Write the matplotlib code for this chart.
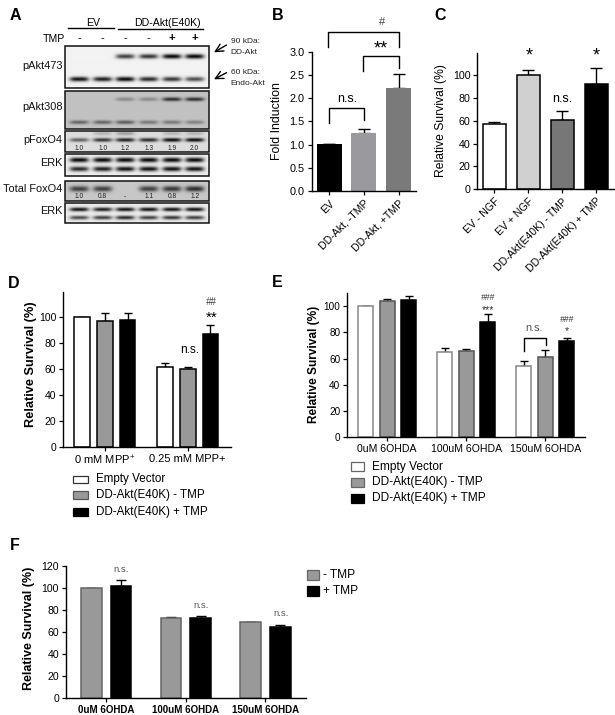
import numpy as np
import matplotlib
matplotlib.use("Agg")
import matplotlib.pyplot as plt
from matplotlib.patches import Rectangle

plt.rcParams["font.family"] = ["Liberation Sans", "DejaVu Sans"]
plt.rcParams["mathtext.default"] = "regular"

W, H = 615, 715

# panel B
b_labels = ["EV", "DD-Akt, -TMP", "DD-Akt, +TMP"]
b_values = [1.01, 1.25, 2.22]
b_errors = [0, 0.09, 0.31]
# panel C
c_labels = ["EV - NGF", "EV + NGF", "DD-Akt(E40K) - TMP", "DD-Akt(E40K) + TMP"]
c_values = [57, 100, 61, 92.5]
c_errors = [1.5, 4, 7.5, 13.5]
# panel D
d_groups = ["0 mM MPP$^{+}$", "0.25 mM MPP+"]
d_values = [[100, 62], [97, 60], [98, 87.5]]
d_errors = [[0, 2.5], [6.5, 2], [5, 6.5]]
# panel E
e_groups = ["0uM 6OHDA", "100uM 6OHDA", "150uM 6OHDA"]
e_values = [[100, 65, 54], [104, 66, 61.5], [104.5, 88, 73.5]]
e_errors = [[0, 3.5, 4.5], [2, 1.5, 5], [3.5, 6, 2]]
# panel F
f_values = [[100, 72.5, 68.5], [102, 72.5, 64.5]]
f_errors = [[0, 1, 0.5], [5, 1.5, 1.5]]

legend_three = ["Empty Vector", "DD-Akt(E40K) - TMP", "DD-Akt(E40K) + TMP"]
legend_two = ["- TMP", "+ TMP"]

# panel A, strength of each band per lane
lanes = [79.3, 102.7, 125.3, 148.7, 172, 194.7]
akt473_top = [0, 0, 0.75, 0.8, 1, 1]
akt473_low = [0.95, 0.9, 1, 0.85, 0.8, 0.7]
akt308_top = [0, 0, 0.3, 0.3, 0.8, 0.8]
akt308_low = [0.5, 0.5, 0.55, 0.4, 0.4, 0.35]
foxo_top = [0, 0.2, 0.3, 0, 0.2, 0.2]
foxo_mid = [0.6, 0.8, 0.9, 0.85, 1, 1]
erk1_top = [1, 1, 1, 1, 1, 1]
erk1_low = [0.85, 0.9, 0.95, 0.95, 0.95, 0.95]
total_foxo = [0.7, 0.7, 0, 0.7, 0.75, 0.8]
erk2_top = [0.95, 0.9, 0.95, 0.95, 0.95, 0.95]
erk2_low = [0.7, 0.75, 0.85, 0.75, 0.8, 0.75]
pfoxo_nums = ["1.0", "1.0", "1.2", "1.3", "1.9", "2.0"]
total_nums = ["1.0", "0.8", "-", "1.1", "0.8", "1.2"]

WHITE, GREY, BLACK = "white", "#999999", "black"

fig = plt.figure(figsize=(W / 100, H / 100), dpi=100)

ov = fig.add_axes([0, 0, 1, 1], zorder=10)
ov.set_xlim(0, W)
ov.set_ylim(H, 0)
ov.axis("off")
ov.patch.set_alpha(0)


def make_axes(left, right, y0, ytop, ymax, xlim):
    ax = fig.add_axes([left / W, 1 - y0 / H, (right - left) / W, (y0 - ytop) / H])
    ax.set_ylim(0, ymax)
    ax.set_xlim(*xlim)
    ax.spines["top"].set_visible(False)
    ax.spines["right"].set_visible(False)
    ax.spines["left"].set_linewidth(1.0)
    ax.spines["bottom"].set_linewidth(1.0)
    ax.tick_params(length=3, width=0.9, pad=2)
    return ax


def bars(ax, x, values, errors, color, width, edge="black", cap=2.7):
    ax.bar(x, values, width, color=color, edgecolor=edge, linewidth=1.1, zorder=2)
    ax.errorbar(x, values, yerr=[np.zeros(len(errors)), errors], fmt="none",
                ecolor="black", elinewidth=1.0, capsize=cap, capthick=1.0, zorder=1)


def ylabel(ax, text, x, y, size, **kw):
    ax.set_ylabel(text, fontsize=size, va="center", **kw)
    ax.yaxis.set_label_coords(x, y, transform=ov.transData)


def bracket(x1, y1, ytop, x2, y2, color="black"):
    ov.plot([x1, x1, x2, x2], [y1, ytop, ytop, y2], color=color, lw=1.0)


def note(x, y, s, size=7.5, color="black", **kw):
    ov.text(x, y, s, fontsize=size, color=color, ha="center", va="center", **kw)


def legend_rows(x0, x1, xt, ys, h, labels, colors, size, edges):
    for y, label, c, e in zip(ys, labels, colors, edges):
        ov.add_patch(Rectangle((x0, y - h / 2), x1 - x0, h, fc=c, ec=e, lw=0.9))
        ov.text(xt, y, label, fontsize=size, va="center", ha="left")


# ---- A
def blot(top, bottom, bg, rows, left=65.3, right=209.3, band_h=2.3, band_w=9.5):
    xs = np.arange(left, right, 0.5)
    ys = np.arange(top, bottom, 0.5)
    xx, yy = np.meshgrid(xs, ys)
    img = np.full(xx.shape, float(bg))
    for yc, strengths in rows:
        for lane, s in zip(lanes, strengths):
            band = np.exp(-((xx - lane) / band_w) ** 4) * np.exp(-((yy - yc) / band_h) ** 2)
            img = img * (1 - 0.97 * s * band)
    ov.imshow(img, cmap="gray", vmin=0, vmax=1, extent=(left, right, bottom, top),
              aspect="auto", interpolation="bilinear", zorder=1)
    ov.add_patch(Rectangle((left, top), right - left, bottom - top, fc="none", ec="#111111", lw=1.1, zorder=2))


blot(46, 88.3, 0.95, [(57, akt473_top), (79.5, akt473_low)])
blot(90.7, 128.7, 0.76, [(98.7, akt308_top), (121.7, akt308_low)], band_h=1.9)
blot(131.3, 152, 0.87, [(133.5, foxo_top), (140, foxo_mid)], band_h=1.9)
blot(154.3, 176, 0.93, [(160, erk1_top), (169, erk1_low)], band_h=2.4)
blot(180.7, 200.7, 0.78, [(188.3, total_foxo)], band_h=2.8)
blot(203.3, 222.7, 0.92, [(209.3, erk2_top), (217.3, erk2_low)], band_h=1.9)
ov.set_xlim(0, W)
ov.set_ylim(H, 0)

ov.plot([67.7, 114], [28.3, 28.3], color="black", lw=1.0)
ov.plot([118, 203.3], [28.5, 28.5], color="black", lw=1.0)
note(92.7, 23.3, "EV", 7.6)
note(167.7, 23.3, "DD-Akt(E40K)", 7.6)
ov.text(65, 39.3, "TMP", fontsize=7.6, ha="right", va="center")
for lane, sign in zip(lanes, ["-", "-", "-", "-", "+", "+"]):
    note(lane, 38.5, sign, 8, fontweight="bold" if sign == "+" else "normal")
for y, s in [(66, "pAkt473"), (107.5, "pAkt308"), (140, "pFoxO4"), (163, "ERK"),
             (188.5, "Total FoxO4"), (210.5, "ERK")]:
    ov.text(62.7, y, s, fontsize=7.9, ha="right", va="center", color="#111111")
for lane, a, b in zip(lanes, pfoxo_nums, total_nums):
    note(lane, 148.6, a, 4.8, "#222222", zorder=5)
    note(lane, 196.8, b, 4.8, "#222222", zorder=5)
for ty, hy in [(52.3, 45), (79.3, 72.7)]:
    ov.annotate("", xy=(214, ty), xytext=(226.5, hy),
                arrowprops=dict(arrowstyle="->", lw=1.0, color="black", mutation_scale=14,
                                shrinkA=0, shrinkB=0))
for y, s in [(41.7, "90 kDa:"), (52.3, "DD-Akt"), (72.7, "60 kDa:"), (83.3, "Endo-Akt")]:
    ov.text(230.7, y, s, fontsize=6, ha="left", va="center", color="#222222")

# ---- B
ax = make_axes(311.7, 416, 191, 51.7, 3.0, (-0.5, 2.5))
bars(ax, np.arange(3), b_values, b_errors, ["black", "#9a9a9e", "#7a7a7a"], 0.72, edge="none", cap=4)
ax.set_yticks(np.arange(0, 3.01, 0.5))
ax.tick_params(axis="y", labelsize=7.8)
ax.set_xticks(np.arange(3))
ax.set_xticklabels(b_labels, rotation=45, ha="right", rotation_mode="anchor", fontsize=7.6)
ylabel(ax, "Fold Induction", 276.7, 121, 8.9)
bracket(328.3, 47.3, 32.3, 399, 47.3)
bracket(363.3, 70.7, 56, 399, 68.3)
bracket(329.3, 123.3, 108.3, 364.3, 120)
note(347.7, 99, "n.s.", 9)
note(380.7, 49, "**", 13)
note(381.7, 22, "#", 8, "#444444")

# ---- C
ax = make_axes(477.3, 614, 189.3, 53.3, 119, (-0.5, 3.52))
bars(ax, np.arange(4), c_values, c_errors, ["white", "#d0d0d0", "#777777", "black"], 0.68, cap=4)
ax.set_yticks(np.arange(0, 101, 20))
ax.tick_params(axis="y", labelsize=7.7)
ax.set_xticks(np.arange(4))
ax.set_xticklabels(c_labels, rotation=45, ha="right", rotation_mode="anchor", fontsize=7.6)
ylabel(ax, "Relative Survival (%)", 440.7, 121, 8.7)
note(529, 56, "*", 13)
note(596.3, 56, "*", 13)
note(562.7, 99, "n.s.", 9)

# ---- D
gap = 3.66
ax = make_axes(63.3, 230.7, 447.3, 291.7, 119.7, (-0.84, 6.56))
for i, c in enumerate([WHITE, GREY, BLACK]):
    bars(ax, np.arange(2) * gap + i, d_values[i], d_errors[i], c, 0.69)
ax.set_yticks(np.arange(0, 101, 20))
ax.tick_params(axis="y", labelsize=7.5)
ax.set_xticks(np.arange(2) * gap + 1)
ax.set_xticklabels(d_groups, fontsize=8)
ylabel(ax, "Relative Survival (%)", 31, 364, 9.2, fontweight="bold")
note(190, 350, "n.s.", 8.5)
note(211.3, 301.7, "##", 7, "#444444", fontstyle="italic")
note(211.3, 317.5, "**", 11)
legend_rows(72.7, 88.3, 96, [479.3, 495, 511.7], 7.6, legend_three,
            [WHITE, GREY, BLACK], 8.4, ["#333333", "#555555", "black"])

# ---- E
gap = 3.67
ax = make_axes(347.3, 585, 437, 293.3, 110, (-0.856, 10.19))
for i, c in enumerate([WHITE, GREY, BLACK]):
    bars(ax, np.arange(3) * gap + i, e_values[i], e_errors[i], c, 0.68,
         edge="#888888" if i == 0 else "#555555" if i == 1 else "black")
ax.set_yticks(np.arange(0, 101, 20))
ax.tick_params(axis="y", labelsize=7.2)
ax.set_xticks(np.arange(3) * gap + 1)
ax.set_xticklabels(e_groups, fontsize=7.6)
ylabel(ax, "Relative Survival (%)", 314.3, 364, 8.6, fontweight="bold")
note(487.7, 297, "###", 6.2, "#333333", fontstyle="italic")
note(487.7, 310.5, "***", 7.5, "#333333")
note(534, 328.3, "n.s.", 7.8, "#555555")
note(566.7, 319.3, "###", 6.2, "#333333", fontstyle="italic")
note(566.7, 331.5, "*", 7.5, "#333333")
bracket(524, 351, 338.3, 545.7, 345)
legend_rows(350.7, 364, 371.7, [466.7, 482.3, 498.3], 9.4, legend_three,
            [WHITE, GREY, BLACK], 8.6, ["#666666", "#666666", "black"])

# ---- F
gap = 2.68
ax = make_axes(66, 306, 698, 565.7, 120, (-0.85, 7.225))
for i, c in enumerate([GREY, BLACK]):
    bars(ax, np.arange(3) * gap + i, f_values[i], f_errors[i], c, 0.7,
         edge="#666666" if i == 0 else "black", cap=3.5)
ax.set_yticks(np.arange(0, 121, 20))
ax.tick_params(axis="y", labelsize=7.6)
ax.set_xticks(np.arange(3) * gap + 0.5)
ax.set_xticklabels(e_groups, fontsize=7, fontweight="bold")
ylabel(ax, "Relative Survival (%)", 28.7, 628, 9, fontweight="bold")
for x, y in [(120.7, 569), (200.7, 605), (280.7, 613.3)]:
    note(x, y, "n.s.", 6.8, "#555555")
legend_rows(307.3, 319, 323.3, [575, 591], 10, legend_two, [GREY, BLACK], 8.6, ["#666666", "black"])

# panel letters
for x, y, s in [(15, 15.7, "A"), (277.7, 15.3, "B"), (440, 15.3, "C"),
                (14, 283.3, "D"), (277.7, 282.3, "E"), (15, 545.3, "F")]:
    note(x, y, s, 11.5, fontweight="bold")

fig.savefig("out.png", dpi=100)
